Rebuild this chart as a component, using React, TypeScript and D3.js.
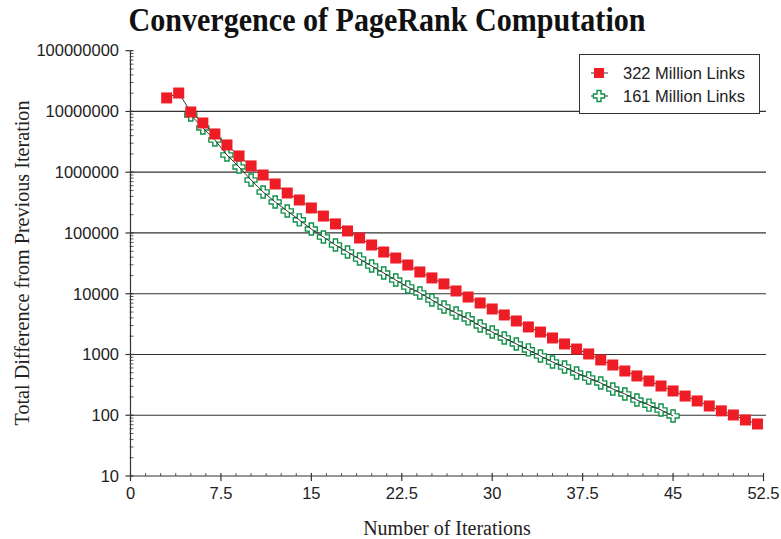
import React from "react";
import * as d3 from "d3";

const iterations322 = [3,4,5,6,7,8,9,10,11,12,13,14,15,16,17,18,19,20,21,22,23,24,25,26,27,28,29,30,31,32,33,34,35,36,37,38,39,40,41,42,43,44,45,46,47,48,49,50,51,52];
const values322 = [16700000,20100000,9800000,6460000,4260000,2810000,1850000,1270000,900000,640000,455000,349000,258000,190000,141000,108000,82700,63400,48600,38700,29700,22800,18200,14500,11100,8830,7040,5610,4470,3560,2840,2340,1870,1490,1230,1020,813,671,535,443,366,303,251,207,172,142,118,101,83.6,71.8];

const iterations161 = [5,6,7,8,9,10,11,12,13,14,15,16,17,18,19,20,21,22,23,24,25,26,27,28,29,30,31,32,33,34,35,36,37,38,39,40,41,42,43,44,45];
const values161 = [8750000,5350000,3390000,1920000,1220000,745000,472000,324000,230000,164000,116000,85900,63400,48600,37300,28600,21900,16800,12900,10300,7890,6050,4820,3850,2950,2340,1870,1490,1190,944,752,622,497,410,340,270,224,178,147,122,97.3];

const xTicks = [0, 7.5, 15, 22.5, 30, 37.5, 45, 52.5];
const yTicks = [10, 100, 1000, 10000, 100000, 1000000, 10000000, 100000000];
const seriesNames = ["322 Million Links", "161 Million Links"];

const W = 781, H = 539;
const RED = "#ee1c24";
const GREEN = "#0e9148";
const LINE = "#333333";

function plusPath(s: number, a: number) {
  const h = s / 2, k = a / 2;
  return `M${-k},${-h}H${k}V${-k}H${h}V${k}H${k}V${h}H${-k}V${k}H${-h}V${-k}H${-k}Z`;
}

export default function App() {
  const x = d3.scaleLinear().domain([0, 52.5]).range([130.5, 763.5]);
  const y = d3.scaleLog().domain([10, 1e8]).range([476, 50.7]);

  const d322 = iterations322.map((it, i) => [it, values322[i]] as [number, number]);
  const d161 = iterations161.map((it, i) => [it, values161[i]] as [number, number]);
  const line = d3.line<[number, number]>().x(d => x(d[0])).y(d => y(d[1]));

  const minorY: number[] = [];
  for (let e = 1; e < 8; e++) for (let m = 2; m <= 9; m++) minorY.push(m * Math.pow(10, e));
  const minorX: number[] = d3.range(0, 52.5 + 0.001, 1.25).filter(v => Math.abs(v / 7.5 - Math.round(v / 7.5)) > 1e-6);

  const x0 = x(0), x1 = x(52.5), yb = y(10);
  const plus = plusPath(12, 4.2);
  const sans = "'Liberation Sans', Arial, sans-serif";
  const serif = "'Liberation Serif', 'Times New Roman', serif";

  return (
    <svg width={W} height={H} style={{ position: "absolute", left: 0, top: 0, background: "#fff" }}>
      <rect width={W} height={H} fill="#fff" />
      <text x={387} y={31} textAnchor="middle" fontFamily={serif} fontWeight="bold" fontSize={33}
        textLength={517} lengthAdjust="spacingAndGlyphs" fill="#111">Convergence of PageRank Computation</text>

      {/* gridlines */}
      {yTicks.filter(v => v > 10 && v < 1e8).map(v => (
        <line key={"g" + v} x1={x0} x2={766} y1={y(v)} y2={y(v)} stroke={LINE} strokeWidth={1.2} />
      ))}

      {/* y axis */}
      <line x1={x0} x2={x0} y1={y(1e8)} y2={yb} stroke={LINE} strokeWidth={1.2} />
      {yTicks.map(v => (
        <line key={"yt" + v} x1={x0 - 5} x2={x0 + 3} y1={y(v)} y2={y(v)} stroke={LINE} strokeWidth={1.2} />
      ))}
      {minorY.map(v => (
        <line key={"ym" + v} x1={x0 - 1} x2={x0 + 3} y1={y(v)} y2={y(v)} stroke={LINE} strokeWidth={0.8} />
      ))}
      {yTicks.map(v => (
        <text key={"yl" + v} x={119} y={y(v)} dy="0.35em" textAnchor="end" fontFamily={sans} fontSize={16.5} fill="#222">{String(v)}</text>
      ))}

      {/* x axis */}
      <line x1={x0} x2={x1} y1={yb} y2={yb} stroke={LINE} strokeWidth={1.2} />
      {xTicks.map(v => (
        <line key={"xt" + v} x1={x(v)} x2={x(v)} y1={yb - 3} y2={yb + 5} stroke={LINE} strokeWidth={1.2} />
      ))}
      {minorX.map(v => (
        <line key={"xm" + v} x1={x(v)} x2={x(v)} y1={yb - 3} y2={yb} stroke={LINE} strokeWidth={0.8} />
      ))}
      {xTicks.map(v => (
        <text key={"xl" + v} x={x(v)} y={499} textAnchor="middle" fontFamily={sans} fontSize={16.5} fill="#222">{String(v)}</text>
      ))}

      <text x={447} y={535} textAnchor="middle" fontFamily={serif} fontSize={20} fill="#222">Number of Iterations</text>
      <text transform="translate(29,263) rotate(-90)" textAnchor="middle" fontFamily={serif} fontSize={20}
        textLength={325} lengthAdjust="spacingAndGlyphs" fill="#222">Total Difference from Previous Iteration</text>

      {/* 161 series */}
      {d161.map((d, i) => (
        <path key={"p161" + i} d={plus} transform={`translate(${x(d[0])},${y(d[1])})`} fill="#fff" stroke={GREEN} strokeWidth={1.4} />
      ))}
      <path d={line(d161) || ""} fill="none" stroke={LINE} strokeWidth={1} />

      {/* 322 series */}
      <path d={line(d322) || ""} fill="none" stroke={LINE} strokeWidth={1} />
      {d322.map((d, i) => (
        <rect key={"r322" + i} x={x(d[0]) - 5.5} y={y(d[1]) - 5.5} width={11} height={11} fill={RED} />
      ))}

      {/* legend */}
      <rect x={579.5} y={54.5} width={180} height={59} fill="#fff" stroke={LINE} strokeWidth={1} />
      <line x1={591} x2={608} y1={73} y2={73} stroke={LINE} strokeWidth={1} />
      <rect x={599 - 5} y={73 - 5} width={10} height={10} fill={RED} />
      <text x={623} y={79} fontFamily={sans} fontSize={16.5} fill="#222">{seriesNames[0]}</text>
      <line x1={591} x2={608} y1={96} y2={96} stroke={LINE} strokeWidth={1} />
      <path d={plusPath(11, 4)} transform="translate(599,96)" fill="#fff" stroke={GREEN} strokeWidth={1.4} />
      <text x={623} y={102} fontFamily={sans} fontSize={16.5} fill="#222">{seriesNames[1]}</text>
    </svg>
  );
}
